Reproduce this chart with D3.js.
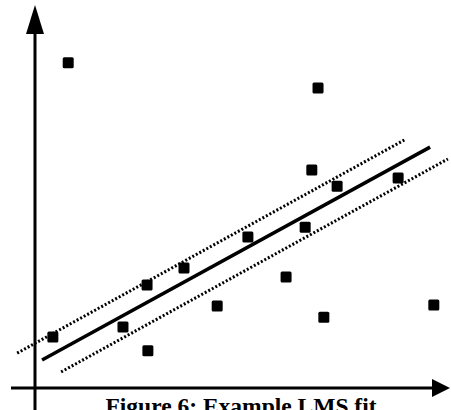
<!DOCTYPE html>
<html>
<head>
<meta charset="utf-8">
<script src="https://cdn.jsdelivr.net/npm/d3@7"></script>
<style>
html,body{margin:0;padding:0;background:#fff;overflow:hidden;}
svg{display:block;}
</style>
</head>
<body>
<script>
// Data points (arbitrary units)
const pointX = [0.80, 6.82, 6.67, 7.28, 8.75, 5.13, 6.51, 3.59, 2.70, 6.05, 4.39, 9.61, 0.43, 2.12, 6.96, 2.72];
const pointY = [8.49, 7.83, 5.69, 5.27, 5.48, 3.94, 4.20, 3.13, 2.69, 2.90, 2.14, 2.17, 1.33, 1.59, 1.85, 0.97];
// LMS fit line and its band (endpoints)
const fitX = [0.17, 9.52];
const fitY = [0.73, 6.29];
const upperX = [-0.43, 8.94];
const upperY = [0.91, 6.50];
const lowerX = [0.63, 9.95];
const lowerY = [0.42, 5.98];
const caption = "Figure 6: Example LMS fit";

const W = 451, H = 410;
const svg = d3.select("body").append("svg").attr("width", W).attr("height", H);

const x = d3.scaleLinear().domain([0, 10]).range([35, 450]);
const y = d3.scaleLinear().domain([0, 10]).range([388, 5]);

// Axes
svg.append("line").attr("x1", x(0)).attr("x2", x(0)).attr("y1", H).attr("y2", 30)
  .attr("stroke", "#000").attr("stroke-width", 3);
svg.append("path")
  .attr("d", `M${x(0)},${y(10)} L${x(0) - 9},${y(10) + 29} L${x(0) + 9},${y(10) + 29} Z`)
  .attr("fill", "#000");
svg.append("line").attr("x1", 11).attr("x2", 436).attr("y1", y(0)).attr("y2", y(0))
  .attr("stroke", "#000").attr("stroke-width", 3);
svg.append("path")
  .attr("d", `M${x(10)},${y(0)} L${x(10) - 18},${y(0) - 9} L${x(10) - 18},${y(0) + 9} Z`)
  .attr("fill", "#000");

const line = d3.line().x(d => x(d[0])).y(d => y(d[1]));

svg.append("path").datum(d3.zip(upperX, upperY)).attr("d", line)
  .attr("fill", "none").attr("stroke", "#000").attr("stroke-width", 3).attr("stroke-dasharray", "2,2");
svg.append("path").datum(d3.zip(lowerX, lowerY)).attr("d", line)
  .attr("fill", "none").attr("stroke", "#000").attr("stroke-width", 3).attr("stroke-dasharray", "2,2");
svg.append("path").datum(d3.zip(fitX, fitY)).attr("d", line)
  .attr("fill", "none").attr("stroke", "#000").attr("stroke-width", 3.5);

// Points
const s = 11;
svg.selectAll("rect.pt").data(d3.zip(pointX, pointY)).enter().append("rect")
  .attr("class", "pt")
  .attr("x", d => x(d[0]) - s / 2).attr("y", d => y(d[1]) - s / 2)
  .attr("width", s).attr("height", s).attr("rx", 1.5)
  .attr("fill", "#000");

// Caption
svg.append("text").attr("x", 241).attr("y", 414)
  .attr("text-anchor", "middle")
  .attr("font-family", "'Liberation Serif', 'Times New Roman', serif")
  .attr("font-weight", "bold").attr("font-size", 23.5)
  .text(caption);
</script>
</body>
</html>
